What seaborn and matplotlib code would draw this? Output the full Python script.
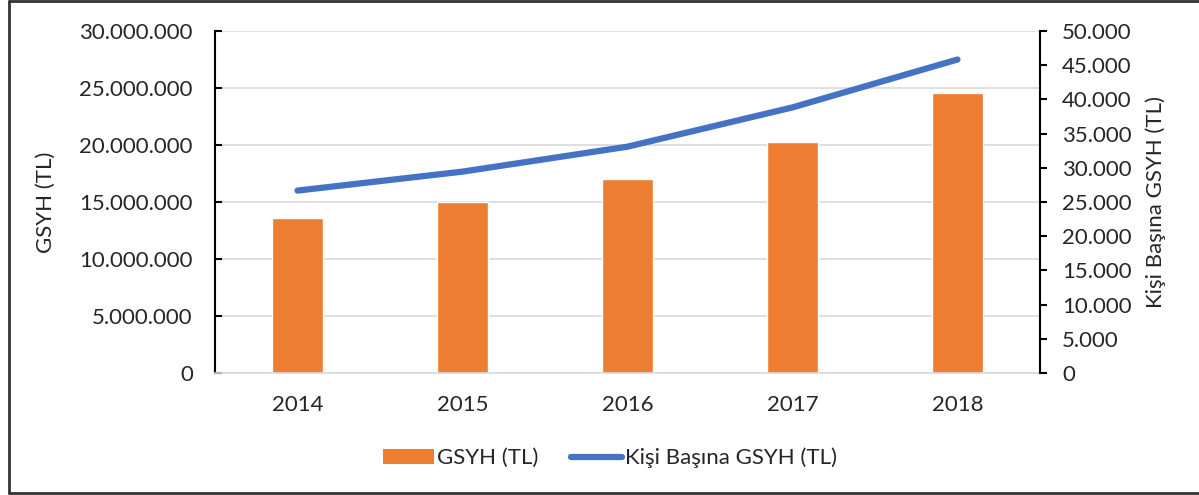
import numpy as np
import pandas as pd
import matplotlib
matplotlib.use("Agg")
import matplotlib.pyplot as plt
import seaborn as sns
from matplotlib.patches import Patch
from matplotlib.lines import Line2D
from matplotlib.ticker import FuncFormatter

# Values
years = ["2014", "2015", "2016", "2017", "2018"]
gsyh = [13570000, 15000000, 17000000, 20290000, 24520000]
kisi_basina = [26670, 29440, 33090, 38830, 45830]

df = pd.DataFrame({"Yil": years, "GSYH": gsyh, "KisiBasina": kisi_basina})

sns.set_theme(style="white")
plt.rcParams["font.family"] = ["Lato", "DejaVu Sans"]

ORANGE = "#ED7D31"
BLUE = "#4472C4"
GRID = "#D9D9D9"
FS = 16


def tr_format(v, pos):
    return f"{int(round(v)):,}".replace(",", ".")


fig = plt.figure(figsize=(11.99, 4.95), dpi=100)
ax = fig.add_axes([215 / 1199, 1 - 373 / 495, (1040 - 215) / 1199, (373 - 31) / 495])

sns.barplot(data=df, x="Yil", y="GSYH", color=ORANGE, width=0.31,
            saturation=1, ax=ax, zorder=2)
ax.set_ylim(0, 30000000)
ax.set_yticks(np.arange(0, 30000001, 5000000))
ax.yaxis.set_major_formatter(FuncFormatter(tr_format))
ax.set_xlim(-0.5, len(years) - 0.5)
ax.grid(axis="y", color=GRID, linewidth=1.2, zorder=0)
ax.set_axisbelow(True)
ax.set_xlabel("")
ax.set_ylabel("GSYH (TL)", fontsize=FS, labelpad=17)
ax.tick_params(axis="y", direction="in", length=5, width=1.5, color="black",
               labelsize=FS, pad=16, left=True)
ax.tick_params(axis="x", length=0, labelsize=FS, pad=16)
for side in ["top", "right"]:
    ax.spines[side].set_visible(False)
ax.spines["left"].set_color("black")
ax.spines["left"].set_linewidth(1.5)
ax.spines["bottom"].set_color(GRID)
ax.spines["bottom"].set_linewidth(1.2)

ax2 = ax.twinx()
sns.lineplot(x=np.arange(len(years)), y=df["KisiBasina"], color=BLUE,
             linewidth=4.5, ax=ax2, solid_capstyle="round")
ax2.set_ylim(0, 50000)
ax2.set_yticks(np.arange(0, 50001, 5000))
ax2.yaxis.set_major_formatter(FuncFormatter(tr_format))
ax2.set_ylabel("Kişi Başına GSYH (TL)", fontsize=FS, labelpad=10)
ax2.tick_params(axis="y", direction="out", length=5, width=1.5, color="black",
                labelsize=FS, pad=11, right=True)
for side in ["top", "left", "bottom"]:
    ax2.spines[side].set_visible(False)
ax2.spines["right"].set_color("black")
ax2.spines["right"].set_linewidth(1.5)
ax2.grid(False)

handles = [Patch(facecolor=ORANGE, edgecolor="none"),
           Line2D([0], [0], color=BLUE, linewidth=4.5, solid_capstyle="round")]
fig.legend(handles, ["GSYH (TL)", "Kişi Başına GSYH (TL)"], loc="center",
           bbox_to_anchor=(610 / 1199, 1 - 458 / 495), ncol=2, frameon=False,
           fontsize=FS, handlelength=2.3, handletextpad=0.1, columnspacing=1.5)

# outer frame
for xs, ys in [([9, 9], [1, 493]), ([9, 1199], [1, 1]), ([9, 1199], [493, 493])]:
    fig.add_artist(Line2D([x / 1199 for x in xs], [1 - y / 495 for y in ys],
                          transform=fig.transFigure, color="#333333", linewidth=2))

fig.savefig("out.png", dpi=100)
